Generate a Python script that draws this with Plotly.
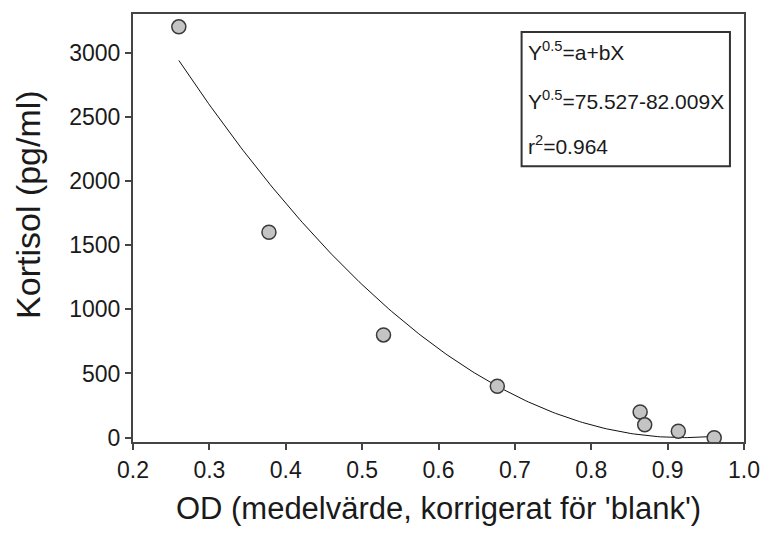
import numpy as np
import plotly.graph_objects as go

# Data
od_values = [0.260, 0.378, 0.528, 0.677, 0.864, 0.870, 0.914, 0.961]
kortisol_values = [3200, 1600, 800, 400, 200, 100, 50, 0]

# Regression coefficients shown in the chart: Y^0.5 = a + bX
coef_a = 75.527
coef_b = -82.009
r_squared = 0.964

x_ticks = [0.2, 0.3, 0.4, 0.5, 0.6, 0.7, 0.8, 0.9, 1.0]
x_tick_labels = ["0.2", "0.3", "0.4", "0.5", "0.6", "0.7", "0.8", "0.9", "1.0"]
y_ticks = [0, 500, 1000, 1500, 2000, 2500, 3000]

fit_x = np.linspace(min(od_values), max(od_values), 200)
fit_y = (coef_a + coef_b * fit_x) ** 2

fig = go.Figure()
fig.add_trace(go.Scatter(x=fit_x, y=fit_y, mode="lines",
                         line=dict(color="#111111", width=1), hoverinfo="skip"))
fig.add_trace(go.Scatter(x=od_values, y=kortisol_values, mode="markers",
                         marker=dict(size=14, color="#c4c4c4",
                                     line=dict(color="#3a3a3a", width=1.5))))

axis_color = "#444444"
fig.update_layout(
    width=772, height=536,
    margin=dict(l=133, r=18, t=12, b=94),
    paper_bgcolor="white", plot_bgcolor="white",
    showlegend=False,
    font=dict(family="Liberation Sans, Arial, sans-serif", color="#1a1a1a"),
    xaxis=dict(range=[0.2, 1.0], tickvals=x_ticks, ticktext=x_tick_labels,
               showgrid=False, zeroline=False, showline=True, mirror=True,
               linecolor=axis_color, linewidth=2, ticks="outside", ticklen=6,
               tickcolor=axis_color, tickwidth=1.5, tickfont=dict(size=23),
               title=dict(text="OD (medelvärde, korrigerat för 'blank')",
                          font=dict(size=31), standoff=16)),
    yaxis=dict(range=[-34, 3300], tickvals=y_ticks,
               showgrid=False, zeroline=False, showline=True, mirror=True,
               linecolor=axis_color, linewidth=2, ticks="outside", ticklen=6,
               tickcolor=axis_color, tickwidth=1.5, tickfont=dict(size=23)),
)

# Y-axis title placed explicitly
fig.add_annotation(text="Kortisol (pg/ml)", xref="paper", yref="paper",
                   x=-0.172, y=0.556, xanchor="center", yanchor="middle",
                   textangle=-90, showarrow=False,
                   font=dict(size=34, color="#1a1a1a"))

fig.add_shape(type="rect", xref="paper", yref="paper",
              x0=0.636, x1=0.977, y0=0.644, y1=0.958,
              line=dict(color="#333333", width=2), fillcolor="rgba(0,0,0,0)")

lines = [
    "Y<sup>0.5</sup>=a+bX",
    f"Y<sup>0.5</sup>={coef_a:.3f}{coef_b:.3f}X",
    f"r<sup>2</sup>={r_squared:.3f}",
]
ys = [0.914, 0.800, 0.695]
for txt, yy in zip(lines, ys):
    fig.add_annotation(text=txt, xref="paper", yref="paper", x=0.644, y=yy,
                       xanchor="left", yanchor="middle", showarrow=False,
                       font=dict(size=21, color="#1a1a1a"))

fig.write_html("out.html")
